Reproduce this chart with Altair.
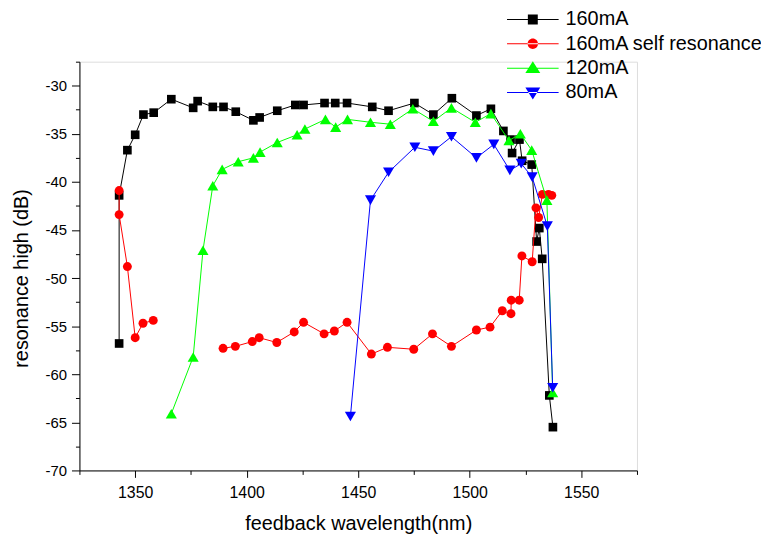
import altair as alt
import pandas as pd

# ---- data ----
series_names = ["160mA", "160mA self resonance", "120mA", "80mA"]
series_colors = ["#000000", "#ff0000", "#00ff00", "#0000ff"]
point_shapes = ["square", "circle", "triangle-up", "triangle-down"]
point_sizes = [76, 81, 125, 125]

black_x = [1342.8, 1342.8, 1346.5, 1350.0, 1353.7, 1358.3, 1366.2, 1376.0, 1378.0, 1384.8,
           1389.6, 1395.1, 1403.0, 1405.8, 1413.7, 1421.8, 1425.5, 1434.9, 1439.7, 1445.0,
           1456.3, 1463.6, 1475.2, 1483.7, 1492.0, 1503.0, 1509.5, 1515.1, 1518.3, 1519.0,
           1522.3, 1523.5, 1527.8, 1530.0, 1531.2, 1532.5, 1535.7, 1537.3]
black_y = [-56.8, -41.4, -36.7, -35.1, -33.0, -32.8, -31.4, -32.3, -31.6, -32.2,
           -32.2, -32.7, -33.6, -33.3, -32.6, -32.0, -32.0, -31.8, -31.8, -31.8,
           -32.2, -32.6, -31.8, -33.0, -31.3, -33.1, -32.4, -34.7, -35.6, -37.0,
           -35.6, -37.8, -38.2, -46.2, -44.8, -48.0, -62.2, -65.5]

red_x = [1342.8, 1342.8, 1346.5, 1350.0, 1353.5, 1358.1,
         1389.4, 1394.9, 1402.5, 1405.6, 1413.5, 1421.3, 1425.5, 1434.7, 1439.3, 1445.0,
         1455.9, 1463.1, 1474.9, 1483.3, 1491.8, 1503.0, 1509.1, 1514.6, 1518.5, 1518.6,
         1522.2, 1523.4, 1528.0, 1529.7, 1530.9, 1532.6, 1535.3, 1536.8]
red_y = [-40.9, -43.4, -48.8, -56.2, -54.7, -54.4,
         -57.3, -57.1, -56.6, -56.2, -56.7, -55.6, -54.6, -55.8, -55.5, -54.6,
         -57.9, -57.2, -57.4, -55.8, -57.1, -55.4, -55.1, -53.4, -53.7, -52.3,
         -52.3, -47.7, -48.3, -42.7, -43.7, -41.3, -41.3, -41.4]
red_segment = [0, 0, 0, 0, 0, 0,
               1, 1, 1, 1, 1, 1, 1, 1, 1, 1,
               1, 1, 1, 1, 1, 1, 1, 1, 1, 1,
               1, 1, 1, 1, 1, 1, 1, 1]

green_x = [1366.2, 1376.0, 1380.4, 1384.8, 1389.0, 1396.2, 1403.0, 1406.0, 1413.7, 1422.6,
           1426.1, 1435.3, 1439.9, 1445.2, 1455.5, 1464.4, 1474.5, 1483.7, 1491.8, 1502.5,
           1509.5, 1517.6, 1522.7, 1527.8, 1534.6, 1537.2]
green_y = [-64.1, -58.2, -47.1, -40.4, -38.7, -37.9, -37.5, -36.9, -35.9, -35.1,
           -34.5, -33.5, -34.3, -33.5, -33.8, -34.0, -32.4, -33.7, -32.3, -33.8,
           -32.9, -35.7, -35.0, -36.7, -41.9, -61.9]

blue_x = [1446.5, 1455.5, 1463.6, 1475.4, 1483.7, 1491.8, 1503.0, 1510.8, 1518.0, 1523.1,
          1528.0, 1534.8, 1537.2]
blue_y = [-64.4, -41.9, -39.0, -36.4, -36.8, -35.3, -37.5, -36.1, -38.8, -38.1,
          -39.5, -44.6, -61.4]

x_ticks = [1325, 1350, 1375, 1400, 1425, 1450, 1475, 1500, 1525, 1550, 1575]
y_ticks = [-70, -67.5, -65, -62.5, -60, -57.5, -55, -52.5, -50, -47.5, -45, -42.5,
           -40, -37.5, -35, -32.5, -30, -27.5]

# legend symbols: a line through the marker (custom SVG paths)
legend_paths = [
    "M-5.2,-0.1H5.2V0.1H-5.2Z M-1,-1H1V1H-1Z",
    "M-5.2,-0.1H5.2V0.1H-5.2Z M-1.05,0A1.05,1.05,0,1,0,1.05,0A1.05,1.05,0,1,0,-1.05,0Z",
    "M-5.2,-0.1H5.2V0.1H-5.2Z M0,-1.4L1.5,1.0H-1.5Z",
    "M-5.2,-0.1H5.2V0.1H-5.2Z M0,1.4L1.5,-1.0H-1.5Z",
]

FONT = "Liberation Sans"

def make_df(xs, ys, seg=None):
    d = pd.DataFrame({"x": xs, "y": ys, "idx": list(range(len(xs)))})
    d["seg"] = seg if seg is not None else [0] * len(xs)
    return d

frames = [make_df(black_x, black_y), make_df(red_x, red_y, red_segment),
          make_df(green_x, green_y), make_df(blue_x, blue_y)]

x_enc = alt.X("x:Q", scale=alt.Scale(domain=[1325, 1575], nice=False, zero=False),
              axis=alt.Axis(
                  values=x_ticks,
                  title="feedback wavelength(nm)",
                  labelExpr="datum.value % 50 == 0 ? '' + datum.value : ''",
                  tickSize={"condition": {"test": "datum.value % 50 == 0", "value": 7}, "value": 4},
                  labelFlush=False, labelOverlap=False,
                  labelPadding=7, labelFont=FONT, labelFontSize=16, labelColor="#000",
                  titleFont=FONT, titleFontSize=20, titleFontWeight="normal", titleColor="#000",
                  titleBaseline="alphabetic", titleY=60,
                  domainColor="#000", tickColor="#000", domainWidth=1, tickWidth=1,
                  grid=False))
y_enc = alt.Y("y:Q", scale=alt.Scale(domain=[-70, -27.5], nice=False, zero=False),
              axis=alt.Axis(
                  values=y_ticks,
                  title="resonance high (dB)",
                  labelExpr="datum.value % 5 == 0 ? '' + datum.value : ''",
                  tickSize={"condition": {"test": "datum.value % 5 == 0", "value": 8}, "value": 4},
                  labelOverlap=False, labelFlush=False,
                  labelPadding=5, labelFont=FONT, labelFontSize=15, labelColor="#000",
                  titleFont=FONT, titleFontSize=20, titleFontWeight="normal", titleColor="#000",
                  titleBaseline="alphabetic", titleX=-52, titleY=218,
                  domainColor="#000", tickColor="#000", domainWidth=1, tickWidth=1,
                  grid=False))

layers = []
for i, df in enumerate(frames):
    line = alt.Chart(df).mark_line(color=series_colors[i], strokeWidth=1).encode(
        x=x_enc, y=y_enc, detail="seg:N", order="idx:Q")
    pts = alt.Chart(df).mark_point(shape=point_shapes[i], filled=True, opacity=1,
                                   size=point_sizes[i], color=series_colors[i]).encode(
        x=x_enc, y=y_enc)
    layers += [line, pts]

legend_props = dict(orient="none", legendX=447, legendY=-52.5, title=None,
                    labelFont=FONT, labelFontSize=20, labelColor="#000", labelLimit=500,
                    labelOffset=23, rowPadding=4.5, padding=0, symbolSize=100,
                    symbolStrokeWidth=0, symbolOpacity=1)
legend_df = pd.DataFrame({"series": series_names})
legend_layer = alt.Chart(legend_df).mark_point(filled=True, size=100, opacity=1).encode(
    color=alt.Color("series:N", scale=alt.Scale(domain=series_names, range=series_colors),
                    legend=alt.Legend(**legend_props)),
    shape=alt.Shape("series:N", scale=alt.Scale(domain=series_names, range=legend_paths),
                    legend=alt.Legend(**legend_props)),
).transform_filter("false")

chart = alt.layer(*layers, legend_layer).properties(
    width=562, height=412,
    autosize=alt.AutoSizeParams(type="none"),
    padding={"left": 72, "top": 52, "right": 125, "bottom": 66},
).configure_view(stroke=None).configure(background="white")

chart.save("out.html", embed_options={"renderer": "svg", "actions": False})
